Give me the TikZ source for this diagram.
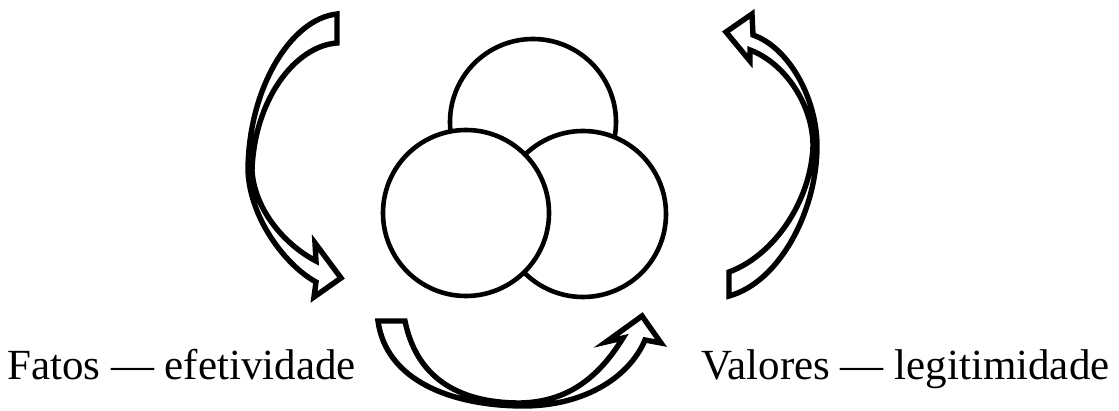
\documentclass[tikz,border=0pt]{standalone}
\usepackage{fontspec}
\setmainfont{Liberation Serif}
\usepackage{tikz}

\begin{document}
\begin{tikzpicture}[
    x=1pt, y=-1pt,
    ball/.style={circle, draw=black, fill=white, line width=4.6pt, minimum size=166pt, inner sep=0pt},
    bigarrow/.style={draw=black, fill=white, line width=5.4pt, line join=miter},
    caption/.style={font=\fontsize{43}{50}\selectfont, inner sep=0pt, anchor=base west}
]
    \useasboundingbox (0,0) rectangle (1119,411);

    % Three circles
    \node (top) [ball] at (533,122) {};
    \node (right) [ball] at (583,214) {};
    \node (left) [ball] at (466,213) {};

    % Left arrow (downwards)
    \draw [bigarrow] (337,14) .. controls (290,19) and (248,90) .. (248,171)
        .. controls (250,218) and (285,265) .. (316,282)
        -- (314,297) -- (341,278) -- (315,243) -- (316,261)
        .. controls (287,246) and (255,212) .. (252,171)
        .. controls (254,100) and (295,46) .. (337,43) -- cycle;

    % Right arrow (upwards)
    \draw [bigarrow] (729,272) .. controls (775,255) and (811,200) .. (813,146)
        .. controls (813,105) and (785,63) .. (750,50)
        -- (750,61) -- (726,32) -- (752,14) -- (753,35)
        .. controls (790,48) and (817,100) .. (817,146)
        .. controls (817,210) and (780,282) .. (729,296) -- cycle;

    % Bottom arrow (left to right)
    \draw [bigarrow] (378,321) .. controls (386,380) and (450,405) .. (520,406)
        .. controls (580,407) and (628,380) .. (645,340)
        -- (661,343) -- (642,316) -- (606,342) -- (623,338)
        .. controls (600,375) and (570,402) .. (520,403)
        .. controls (455,403) and (416,375) .. (405,321) -- cycle;

    % Labels
    \node (facts) [caption] at (7,380) {Fatos — efetividade};
    \node (values) [caption] at (701,380) {Valores — legitimidade};
\end{tikzpicture}
\end{document}
